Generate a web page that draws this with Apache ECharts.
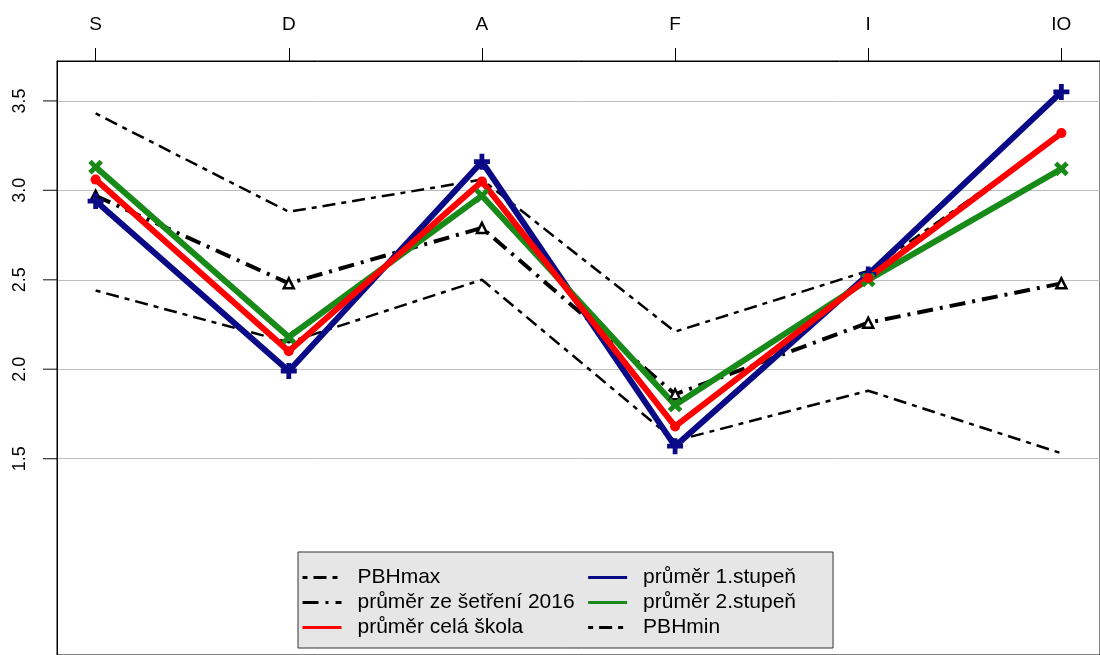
<!DOCTYPE html>
<html>
<head>
<meta charset="utf-8">
<script src="https://cdn.jsdelivr.net/npm/echarts@6/dist/echarts.min.js"></script>
<style>
    html, body { margin: 0; padding: 0; background: #fff; }
    #chart { width: 1100px; height: 655px; }
</style>
</head>
<body>
<div id="chart"></div>
<script>
// data
const categories = ['S', 'D', 'A', 'F', 'I', 'IO'];
const yTicks = [1.5, 2.0, 2.5, 3.0, 3.5];
const pbhMax = [3.43, 2.88, 3.06, 2.21, 2.55, 3.31];
const prumer2016 = [2.97, 2.48, 2.79, 1.86, 2.26, 2.48];
const celaSkola = [3.06, 2.10, 3.05, 1.68, 2.51, 3.32];
const stupen1 = [2.94, 1.99, 3.16, 1.57, 2.53, 3.55];
const stupen2 = [3.13, 2.18, 2.97, 1.80, 2.50, 3.12];
const pbhMin = [2.44, 2.15, 2.50, 1.60, 1.88, 1.53];

const legendOrder = ['PBHmax', 'průměr ze šetření 2016', 'průměr celá škola', 'průměr 1.stupeň', 'průměr 2.stupeň', 'PBHmin'];

const font = 'Liberation Sans, Arial, sans-serif';
const plus = 'path://M-1.2,-4L1.2,-4L1.2,-1.2L4,-1.2L4,1.2L1.2,1.2L1.2,4L-1.2,4L-1.2,1.2L-4,1.2L-4,-1.2L-1.2,-1.2Z';
const catIdx = categories.map((c, i) => i);
const xMin = -0.2;
const xMax = 5.2;

// category index -> [x, y] pairs for the value x axis
function pairs (values) {
    return values.map((v, i) => [i, v]);
}

function dashed (name, values, type) {
    return {
        name: name,
        type: 'line',
        data: pairs(values),
        symbol: 'none',
        color: '#000',
        lineStyle: { color: '#000', width: 2.5, type: type },
    };
}

let chart = echarts.init(document.getElementById('chart'));

let option = {
    animation: false,
    backgroundColor: '#fff',
    textStyle: { fontFamily: font },
    grid: {
        left: 57,
        right: -12,
        top: 61,
        bottom: -2,
        show: true,
        borderColor: '#000',
        borderWidth: 1,
        backgroundColor: 'transparent',
    },
    xAxis: {
        type: 'value',
        position: 'top',
        min: xMin,
        max: xMax,
        axisLine: { show: true, onZero: false, lineStyle: { color: '#000', width: 1 } },
        axisTick: { show: true, length: 13, customValues: catIdx, lineStyle: { color: '#000' } },
        axisLabel: {
            customValues: catIdx,
            margin: 27,
            fontSize: 19,
            color: '#000',
            fontFamily: font,
            formatter: v => categories[Math.round(v)] || '',
        },
        splitLine: { show: false },
    },
    yAxis: {
        type: 'value',
        position: 'left',
        min: 0.4025,
        max: 3.723,
        axisLine: { show: true, onZero: false, lineStyle: { color: '#000', width: 1 } },
        axisTick: { show: false, customValues: yTicks },
        axisLabel: {
            customValues: yTicks,
            rotate: 90,
            margin: 28,
            fontSize: 18,
            color: '#000',
            fontFamily: font,
            formatter: v => v.toFixed(1),
        },
        splitLine: { show: true, lineStyle: { color: '#bdbdbd', width: 1 } },
    },
    legend: {
        data: legendOrder,
        orient: 'vertical',
        left: 298,
        top: 552,
        height: 80,
        itemWidth: 39,
        itemHeight: 14,
        itemGap: 4,
        padding: [15, 29, 10, 3],
        backgroundColor: '#e6e6e6',
        borderColor: '#333',
        borderWidth: 1,
        borderRadius: 0,
        itemStyle: { opacity: 0 },
        lineStyle: { width: 3 },
        textStyle: {
            fontSize: 21,
            lineHeight: 20,
            color: '#000',
            fontFamily: font,
            padding: [0, 8, 0, 11],
        },
    },
    series: [
        // left axis ticks, placed on the frame edge through the scales
        {
            name: 'yticks',
            type: 'scatter',
            data: yTicks.map(v => [xMin, v]),
            symbol: 'rect',
            symbolSize: [14, 1.2],
            symbolOffset: [-7, 0],
            clip: false,
            silent: true,
            itemStyle: { color: '#000' },
        },
        dashed('PBHmax', pbhMax, [5, 6, 13, 6]),
        dashed('PBHmin', pbhMin, [5, 6, 13, 6]),
        {
            name: 'průměr ze šetření 2016',
            type: 'line',
            data: pairs(prumer2016),
            symbol: 'triangle',
            symbolSize: 10,
            color: '#000',
            itemStyle: { color: '#fff', borderColor: '#000', borderWidth: 2.5 },
            lineStyle: { color: '#000', width: 4, type: [16, 7, 3, 7] },
        },
        {
            name: 'průměr 1.stupeň',
            type: 'line',
            data: pairs(stupen1),
            symbol: plus,
            symbolSize: 16,
            color: '#0a0a87',
            itemStyle: { color: '#0a0a87' },
            lineStyle: { color: '#0a0a87', width: 6 },
        },
        {
            name: 'průměr 2.stupeň',
            type: 'line',
            data: pairs(stupen2),
            symbol: plus,
            symbolRotate: 45,
            symbolSize: 16,
            color: '#178a17',
            itemStyle: { color: '#178a17' },
            lineStyle: { color: '#178a17', width: 6 },
        },
        {
            name: 'průměr celá škola',
            type: 'line',
            data: pairs(celaSkola),
            symbol: 'circle',
            symbolSize: 10,
            color: '#ff0000',
            itemStyle: { color: '#ff0000' },
            lineStyle: { color: '#ff0000', width: 6 },
        },
    ],
};

chart.setOption(option);
</script>
</body>
</html>
